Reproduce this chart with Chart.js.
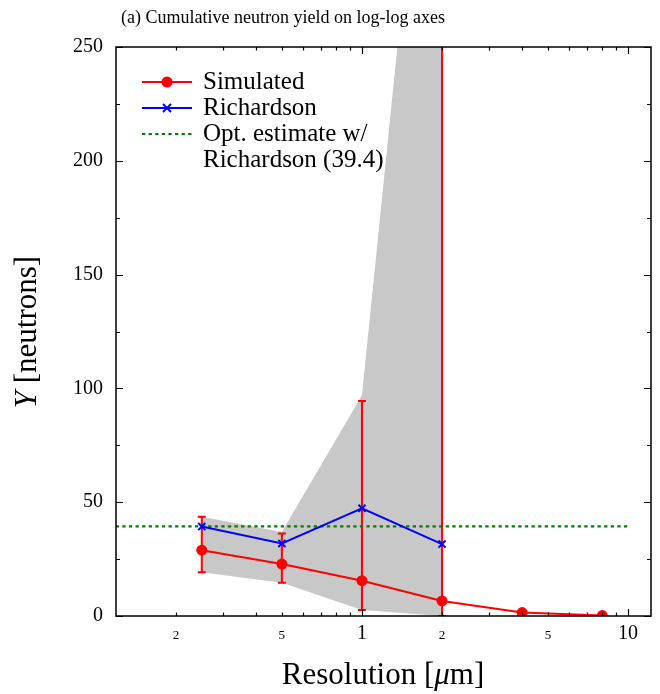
<!DOCTYPE html>
<html>
<head>
<meta charset="utf-8">
<script src="https://cdn.jsdelivr.net/npm/chart.js@4.4.1/dist/chart.umd.min.js"></script>
<style>
  html, body { margin: 0; padding: 0; background: #fff; }
  #wrap { width: 660px; height: 694px; }
</style>
</head>
<body>
<div id="wrap"><canvas id="yieldChart" width="660" height="694"></canvas></div>
<script>
// ---- data ----
const resolution = [0.25, 0.5, 1, 2, 4, 8];
const simulated = [28.9, 22.8, 15.5, 6.6, 1.5, 0.2];
const simErrLow = [19.2, 14.6, 2.6, 0, null, null];
const simErrHigh = [43.6, 36.3, 94.5, 450, null, null];

const richResolution = [0.25, 0.5, 1, 2];
const richardson = [39.3, 31.9, 47.3, 31.6];

const bandUpper = [43.6, 36.9, 97, 443];
const bandLower = [19.2, 14.6, 2.6, 0];

const optEstimate = 39.4;
const optRange = [0.1, 10];

const xTickValues = [0.2, 0.3, 0.4, 0.5, 0.6, 0.7, 0.8, 0.9, 1, 2, 3, 4, 5, 6, 7, 8, 9, 10];
const xMajorTicks = [1, 10];
const xTickLabels = { 0.2: '2', 0.5: '5', 1: '1', 2: '2', 5: '5', 10: '10' };
const yTickValues = [0, 50, 100, 150, 200, 250];
const yMinorTicks = [25, 75, 125, 175, 225];

const SERIF = '"Liberation Serif", "DejaVu Serif", serif';
const RED = '#ff0000', BLUE = '#0000ff', GREEN = '#008000', GRAY = '#c8c8c8';

const pts = (xs, ys) => xs.map((x, i) => ({ x: x, y: ys[i] }));

// =========================================
// custom drawing: frame, inward ticks, error bars, labels, legend
// =========================================
const decorations = {
    id: 'decorations',
    beforeDatasetsDraw(chart) {
        const { ctx, chartArea: a, scales: { x, y } } = chart;
        ctx.save();
        ctx.beginPath();
        ctx.rect(a.left, a.top, a.right - a.left, a.bottom - a.top);
        ctx.clip();
        ctx.strokeStyle = RED;
        ctx.lineWidth = 2;
        resolution.forEach((r, i) => {
            if (simErrLow[i] == null) return;
            const px = x.getPixelForValue(r);
            const lo = y.getPixelForValue(simErrLow[i]);
            const hi = y.getPixelForValue(simErrHigh[i]);
            ctx.beginPath();
            ctx.moveTo(px, lo); ctx.lineTo(px, hi);
            ctx.moveTo(px - 4, lo); ctx.lineTo(px + 4, lo);
            ctx.moveTo(px - 4, hi); ctx.lineTo(px + 4, hi);
            ctx.stroke();
        });
        ctx.restore();
    },
    afterDraw(chart) {
        const { ctx, chartArea: a, scales: { x, y } } = chart;
        ctx.save();
        ctx.strokeStyle = '#000';
        ctx.fillStyle = '#000';

        // frame
        ctx.lineWidth = 1.5;
        ctx.strokeRect(a.left, a.top, a.right - a.left, a.bottom - a.top);

        // x ticks (bottom + top), inward
        ctx.lineWidth = 1.2;
        xTickValues.forEach(v => {
            const px = Math.round(x.getPixelForValue(v)) + 0.5;
            const len = xMajorTicks.includes(v) ? 7 : 3.5;
            ctx.beginPath();
            ctx.moveTo(px, a.bottom); ctx.lineTo(px, a.bottom - len);
            ctx.moveTo(px, a.top); ctx.lineTo(px, a.top + len);
            ctx.stroke();
        });
        // y ticks (left + right), inward
        const yTick = (v, len) => {
            const py = Math.round(y.getPixelForValue(v)) + 0.5;
            ctx.beginPath();
            ctx.moveTo(a.left, py); ctx.lineTo(a.left + len, py);
            ctx.moveTo(a.right, py); ctx.lineTo(a.right - len, py);
            ctx.stroke();
        };
        yTickValues.forEach(v => yTick(v, 7));
        yMinorTicks.forEach(v => yTick(v, 4));

        // x tick labels
        ctx.textAlign = 'center';
        ctx.textBaseline = 'middle';
        Object.keys(xTickLabels).forEach(k => {
            const v = parseFloat(k);
            const big = xMajorTicks.includes(v);
            ctx.font = (big ? 20 : 13) + 'px ' + SERIF;
            ctx.fillText(xTickLabels[k], x.getPixelForValue(v), big ? 634 : 636);
        });

        // title
        ctx.font = '18px ' + SERIF;
        ctx.fillText('(a) Cumulative neutron yield on log-log axes', 283, 18);

        // x axis title with italic mu
        const drawParts = (parts, cx, cy) => {
            let total = 0;
            parts.forEach(p => { ctx.font = p[1]; total += ctx.measureText(p[0]).width; });
            let cur = cx - total / 2;
            ctx.textAlign = 'left';
            parts.forEach(p => {
                ctx.font = p[1];
                ctx.fillText(p[0], cur, cy);
                cur += ctx.measureText(p[0]).width;
            });
        };
        drawParts([['Resolution [', '31px ' + SERIF], ['\u03bc', 'italic 31px ' + SERIF], ['m]', '31px ' + SERIF]], 383, 676);

        // y axis title, rotated
        ctx.save();
        ctx.translate(28, 332);
        ctx.rotate(-Math.PI / 2);
        drawParts([['Y', 'italic 31px ' + SERIF], [' [neutrons]', '31px ' + SERIF]], 0, 0);
        ctx.restore();

        // legend
        const lx0 = 142, lx1 = 192, lm = 167, tx = 203;
        ctx.font = '25px ' + SERIF;
        ctx.textAlign = 'left';
        ctx.textBaseline = 'middle';
        // Simulated
        ctx.strokeStyle = RED; ctx.fillStyle = RED; ctx.lineWidth = 2;
        ctx.beginPath(); ctx.moveTo(lx0, 82); ctx.lineTo(lx1, 82); ctx.stroke();
        ctx.beginPath(); ctx.arc(lm, 82, 5.5, 0, Math.PI * 2); ctx.fill();
        // Richardson
        ctx.strokeStyle = BLUE;
        ctx.beginPath(); ctx.moveTo(lx0, 108); ctx.lineTo(lx1, 108); ctx.stroke();
        ctx.beginPath();
        ctx.moveTo(lm - 4, 104); ctx.lineTo(lm + 4, 112);
        ctx.moveTo(lm - 4, 112); ctx.lineTo(lm + 4, 104);
        ctx.stroke();
        // optimum estimate
        ctx.strokeStyle = GREEN; ctx.lineWidth = 2.2; ctx.setLineDash([3.3, 3.3]);
        ctx.beginPath(); ctx.moveTo(lx0, 134); ctx.lineTo(lx1, 134); ctx.stroke();
        ctx.setLineDash([]);
        ctx.fillStyle = '#000';
        ctx.fillText('Simulated', tx, 82);
        ctx.fillText('Richardson', tx, 108);
        ctx.fillText('Opt. estimate w/', tx, 134);
        ctx.fillText('Richardson (' + optEstimate + ')', tx, 160);

        ctx.restore();
    }
};

const chart = new Chart(document.getElementById('yieldChart'), {
    type: 'line',
    data: {
        datasets: [
            {
                label: 'Richardson',
                data: pts(richResolution, richardson),
                borderColor: BLUE,
                backgroundColor: BLUE,
                borderWidth: 2,
                pointStyle: 'crossRot',
                pointRadius: 5,
                pointBorderWidth: 2,
                fill: false,
                order: 0
            },
            {
                label: 'Simulated',
                data: pts(resolution, simulated),
                borderColor: RED,
                backgroundColor: RED,
                borderWidth: 2,
                pointStyle: 'circle',
                pointRadius: 5.5,
                pointBorderWidth: 0,
                fill: false,
                order: 1
            },
            {
                label: 'Opt. estimate',
                data: pts(optRange, [optEstimate, optEstimate]),
                borderColor: GREEN,
                borderWidth: 2.2,
                borderDash: [3.3, 3.3],
                pointRadius: 0,
                fill: false,
                order: 2
            },
            {
                label: 'band upper',
                data: pts(richResolution, bandUpper),
                borderWidth: 0,
                borderColor: 'rgba(0,0,0,0)',
                backgroundColor: GRAY,
                pointRadius: 0,
                fill: '+1',
                order: 3
            },
            {
                label: 'band lower',
                data: pts(richResolution, bandLower),
                borderWidth: 0,
                borderColor: 'rgba(0,0,0,0)',
                pointRadius: 0,
                fill: false,
                order: 4
            }
        ]
    },
    options: {
        responsive: false,
        animation: false,
        layout: { padding: { left: 0, right: 9, top: 47, bottom: 0 } },
        plugins: {
            legend: { display: false },
            tooltip: { enabled: false },
            title: { display: false },
            filler: { drawTime: 'beforeDatasetsDraw' }
        },
        scales: {
            x: {
                type: 'logarithmic',
                min: 0.119,
                max: 12.2,
                grid: { display: false },
                border: { display: false },
                ticks: { display: false },
                afterFit: (scale) => { scale.height = 78; }
            },
            y: {
                type: 'linear',
                min: 0,
                max: 250,
                grid: { display: false, drawTicks: false },
                border: { display: false },
                afterBuildTicks: (scale) => { scale.ticks = yTickValues.map(v => ({ value: v })); },
                ticks: {
                    color: '#000',
                    padding: 13,
                    font: { family: SERIF, size: 20 }
                },
                afterFit: (scale) => { scale.width = 116; }
            }
        }
    },
    plugins: [decorations]
});
</script>
</body>
</html>
